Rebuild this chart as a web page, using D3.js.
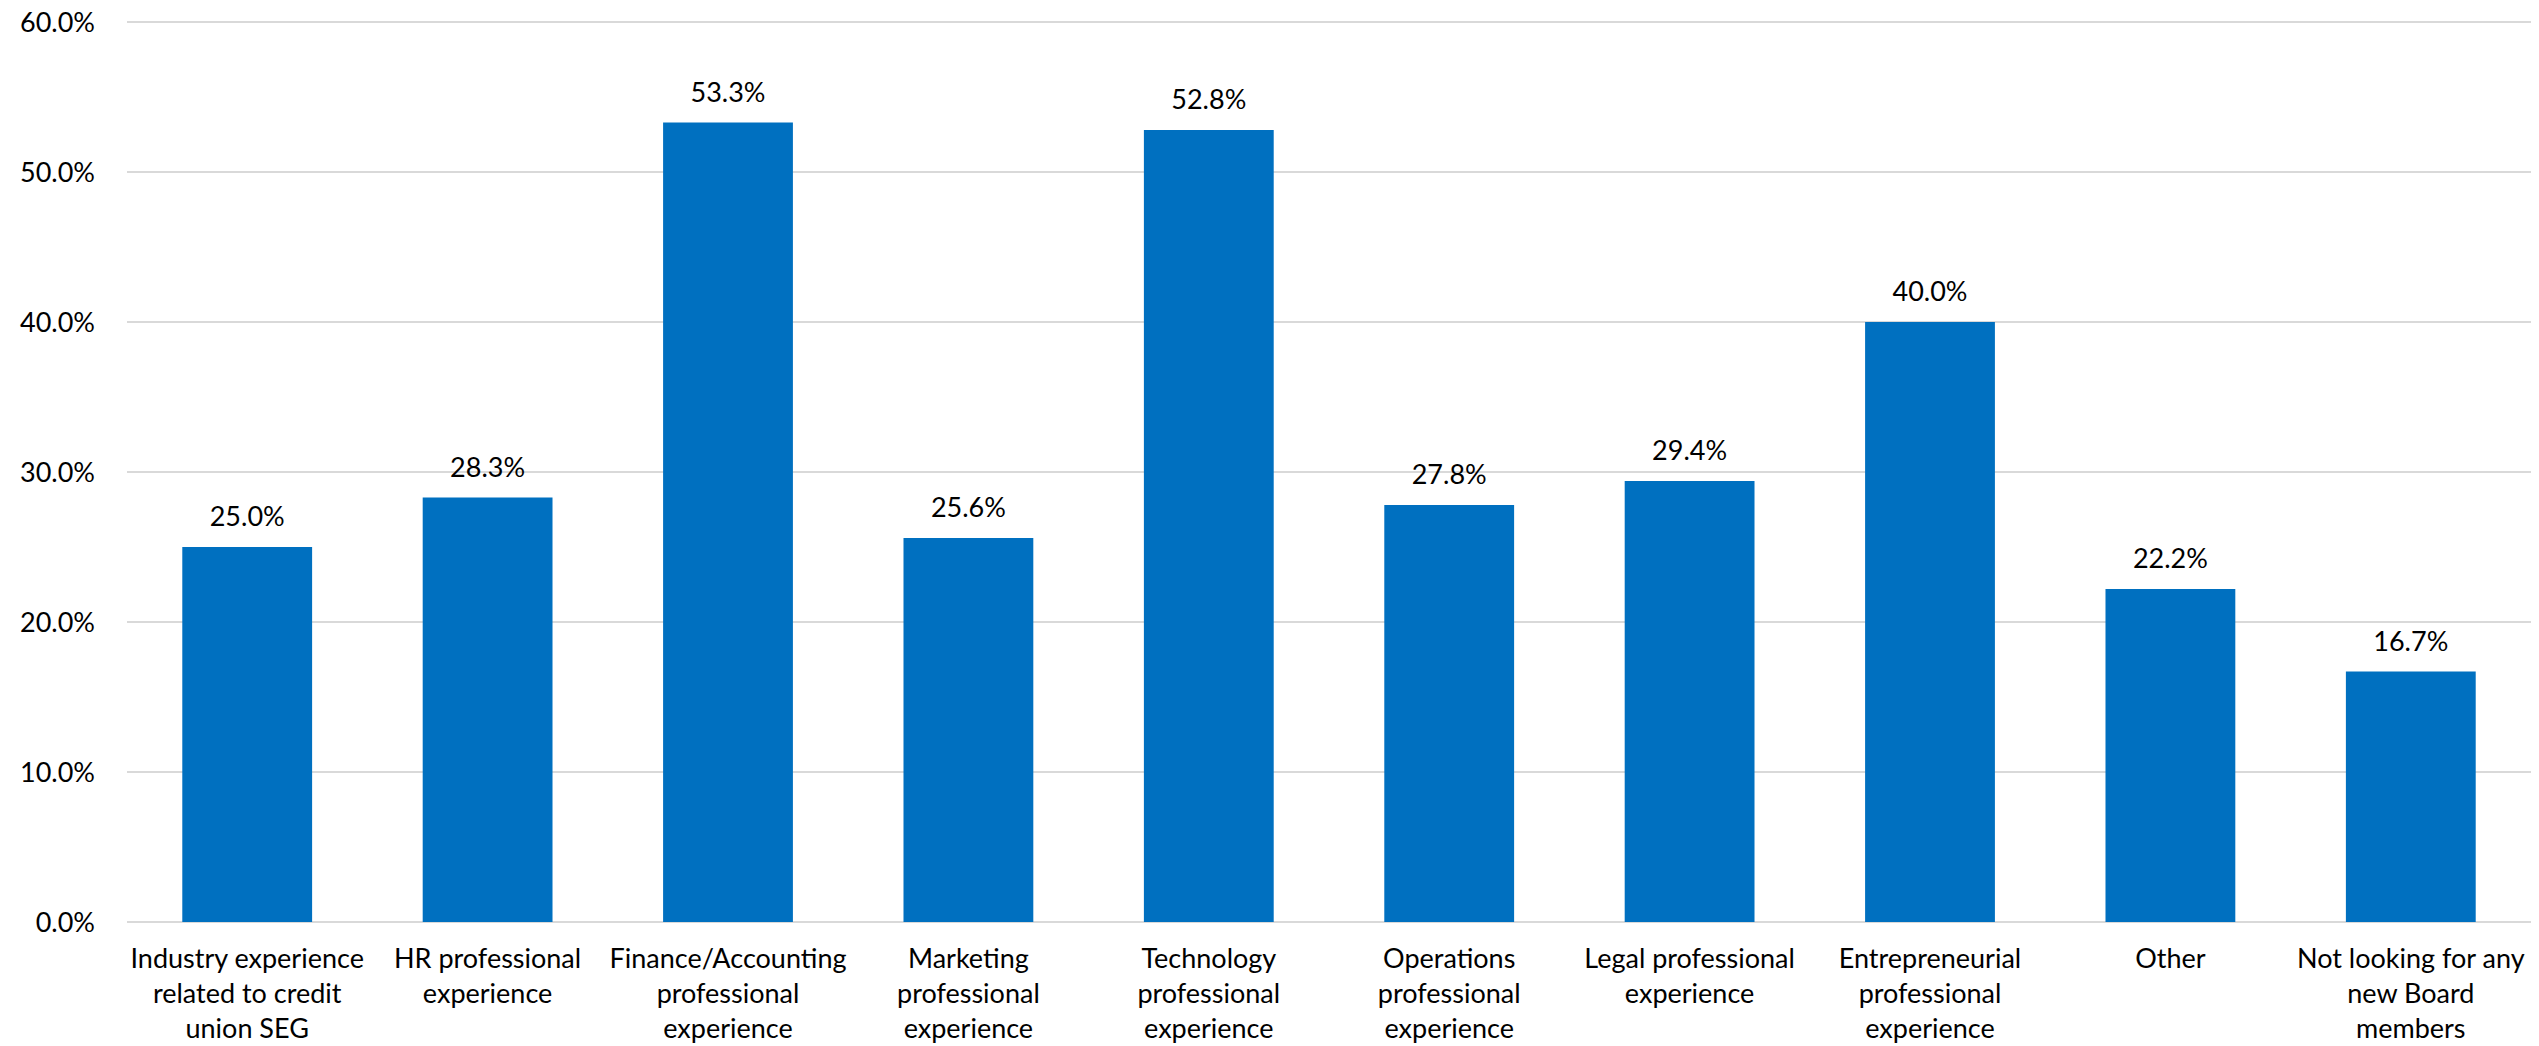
<!DOCTYPE html>
<html lang="en">
<head>
<meta charset="UTF-8">
<script src="https://d3js.org/d3.v7.min.js"></script>
<title>Board experience chart</title>
<style>
  body { margin: 0; background: #fff; }
  text { font-family: Lato, "Open Sans", sans-serif; fill: #000; }
</style>
</head>
<body>
<svg id="chart" width="2539" height="1046"></svg>
<script>
// chart data
const categories = [
    "Industry experience|related to credit|union SEG",
    "HR professional|experience",
    "Finance/Accounting|professional|experience",
    "Marketing|professional|experience",
    "Technology|professional|experience",
    "Operations|professional|experience",
    "Legal professional|experience",
    "Entrepreneurial|professional|experience",
    "Other",
    "Not looking for any|new Board|members"
];
const values = [25.0, 28.3, 53.3, 25.6, 52.8, 27.8, 29.4, 40.0, 22.2, 16.7];
const yTicks = [0, 10, 20, 30, 40, 50, 60];

const svg = d3.select("#chart");

// plot area
const plotLeft = 127, plotRight = 2531, plotTop = 22, plotBottom = 922;

const x = d3.scaleBand()
    .domain(categories)
    .range([plotLeft, plotRight])
    .paddingInner(0.46)
    .paddingOuter(0.23);

const y = d3.scaleLinear()
    .domain([0, 60])
    .range([plotBottom, plotTop]);

// gridlines
svg.selectAll("line.grid")
    .data(yTicks)
    .enter()
    .append("line")
    .attr("class", "grid")
    .attr("x1", plotLeft)
    .attr("x2", plotRight)
    .attr("y1", d => y(d))
    .attr("y2", d => y(d))
    .style("stroke", "#d9d9d9")
    .style("stroke-width", 2);

// y tick labels
svg.selectAll("text.ytick")
    .data(yTicks)
    .enter()
    .append("text")
    .attr("class", "ytick")
    .attr("x", 95)
    .attr("y", d => y(d))
    .attr("dy", "0.36em")
    .attr("text-anchor", "end")
    .style("font-size", "27px")
    .text(d => d.toFixed(1) + "%");

// bars
svg.selectAll("rect.bar")
    .data(values)
    .enter()
    .append("rect")
    .attr("class", "bar")
    .attr("x", (d, i) => x(categories[i]))
    .attr("width", x.bandwidth())
    .attr("y", d => y(d))
    .attr("height", d => plotBottom - y(d))
    .style("fill", "#0070c0");

// value labels
svg.selectAll("text.val")
    .data(values)
    .enter()
    .append("text")
    .attr("class", "val")
    .attr("x", (d, i) => x(categories[i]) + x.bandwidth() / 2)
    .attr("y", d => y(d) - 21)
    .attr("text-anchor", "middle")
    .style("font-size", "27px")
    .text(d => d.toFixed(1) + "%");

// category labels, split on |
const catLabels = svg.selectAll("text.cat")
    .data(categories)
    .enter()
    .append("text")
    .attr("class", "cat")
    .attr("text-anchor", "middle")
    .style("font-size", "27px");

catLabels.each(function(d) {
    const cx = x(d) + x.bandwidth() / 2;
    d.split("|").forEach((line, j) => {
        d3.select(this).append("tspan")
            .attr("x", cx)
            .attr("y", 968 + j * 35)
            .text(line);
    });
});
</script>
</body>
</html>
